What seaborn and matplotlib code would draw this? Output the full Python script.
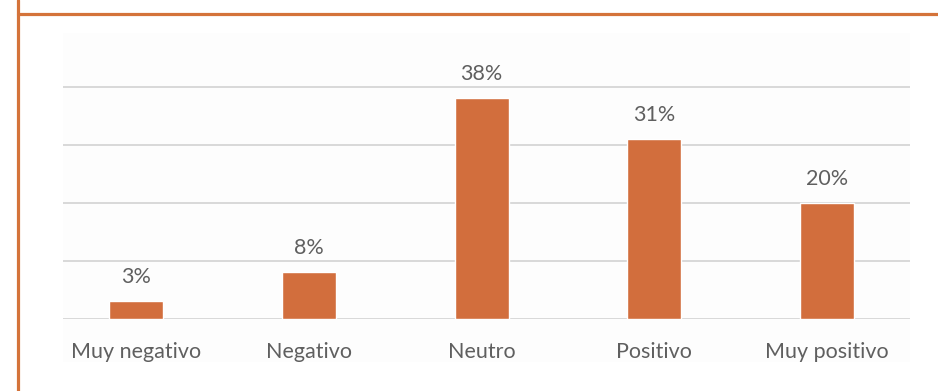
import matplotlib
matplotlib.use("Agg")
import matplotlib.pyplot as plt
from matplotlib.patches import Rectangle
from matplotlib.lines import Line2D
import seaborn as sns
import pandas as pd

categories = ["Muy negativo", "Negativo", "Neutro", "Positivo", "Muy positivo"]
values = [3, 8, 38, 31, 20]
value_labels = ["3%", "8%", "38%", "31%", "20%"]

sns.set_theme(style="white")
plt.rcParams["font.family"] = ["Lato", "DejaVu Sans"]

W, H = 938, 391
fig = plt.figure(figsize=(W / 100, H / 100), dpi=100)
fig.patch.set_facecolor("white")

# faint plot-area panel
fig.add_artist(Rectangle((63 / W, 1 - 362 / H), 847 / W, (362 - 33) / H,
                         transform=fig.transFigure, facecolor="#fdfdfd",
                         edgecolor="none", zorder=0))

# orange frame lines
frame_c = "#D4733A"
fig.add_artist(Line2D([17.5 / W, 1], [1 - 13.5 / H, 1 - 13.5 / H],
                      transform=fig.transFigure, color=frame_c, lw=2.3))
fig.add_artist(Line2D([17.5 / W, 17.5 / W], [0, 1],
                      transform=fig.transFigure, color=frame_c, lw=2.3))

ymax = 40.3
px_per_unit = 5.8
ax_h = ymax * px_per_unit
ax = fig.add_axes([63 / W, 1 - 318.5 / H, 847 / W, ax_h / H])
ax.set_facecolor("none")

df = pd.DataFrame({"cat": categories, "val": values})
sns.barplot(data=df, x="cat", y="val", ax=ax, color="#D26E3D",
            width=0.313, saturation=1, zorder=3)

ax.set_xlim(-0.423, 4.48)
ax.set_ylim(0, ymax)
ax.set_yticks([0, 10, 20, 30, 40])
ax.yaxis.grid(True, color="#d9d9d9", lw=1.4)
ax.set_axisbelow(True)
ax.tick_params(axis="y", left=False, labelleft=False)
ax.tick_params(axis="x", bottom=False, labelsize=15.5, colors="#5f5f5f", pad=11)
for s in ax.spines.values():
    s.set_visible(False)
ax.set_xlabel("")
ax.set_ylabel("")

for i, (v, lab) in enumerate(zip(values, value_labels)):
    ax.annotate(lab, (i, v), xytext=(0, 17), textcoords="offset points",
                ha="center", va="center", fontsize=15.5, color="#5f5f5f")

fig.savefig("out.png", dpi=100)
